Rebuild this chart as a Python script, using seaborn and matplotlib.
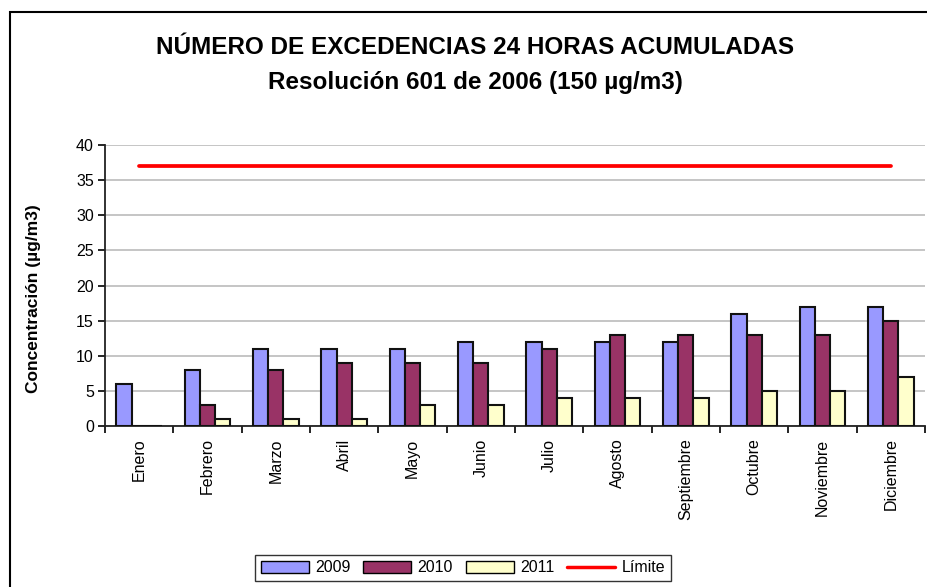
import numpy as np
import pandas as pd
import matplotlib
matplotlib.use('Agg')
import matplotlib.pyplot as plt
import seaborn as sns
from matplotlib.patches import Rectangle, Patch
from matplotlib.lines import Line2D

meses = ['Enero', 'Febrero', 'Marzo', 'Abril', 'Mayo', 'Junio', 'Julio',
         'Agosto', 'Septiembre', 'Octubre', 'Noviembre', 'Diciembre']
v2009 = [6, 8, 11, 11, 11, 12, 12, 12, 12, 16, 17, 17]
v2010 = [0, 3, 8, 9, 9, 9, 11, 13, 13, 13, 13, 15]
v2011 = [0, 1, 1, 1, 3, 3, 4, 4, 4, 5, 5, 7]
limite = [37] * 12
anios = ['2009', '2010', '2011']
colores = ['#9999FF', '#993366', '#FFFFCC']

df = pd.DataFrame({'mes': meses * 3,
                   'anio': np.repeat(anios, 12),
                   'valor': v2009 + v2010 + v2011})

sns.set_style('white')
plt.rcParams['font.family'] = ['Liberation Sans', 'DejaVu Sans']
plt.rcParams['text.color'] = 'black'
plt.rcParams['axes.labelcolor'] = 'black'
plt.rcParams['xtick.color'] = 'black'
plt.rcParams['ytick.color'] = 'black'

fig = plt.figure(figsize=(9.27, 5.87), dpi=100)
ax = fig.add_axes([105 / 927, 1 - 426 / 587, 820 / 927, 281 / 587])

# outer chart frame (cropped on the right and bottom)
fig.patches.append(Rectangle((10 / 927, -0.05), 1.0, 1 - 12 / 587 + 0.05,
                             transform=fig.transFigure, fill=False,
                             edgecolor='black', linewidth=1.5, zorder=0))

sns.barplot(data=df, x='mes', y='valor', hue='anio', order=meses,
            hue_order=anios, palette=colores, width=0.67, gap=0,
            edgecolor='#111111', linewidth=1.5, saturation=1, ax=ax,
            legend=False, zorder=3)
ax.plot(np.arange(len(meses)), limite, color='red', linewidth=2.7, zorder=4)

ax.set_xlim(-0.5, 11.5)
ax.set_ylim(0, 40)
ax.set_yticks(range(0, 41, 5))
ax.yaxis.grid(True, color='#c0c0c0', linewidth=1.3, zorder=0)
ax.set_axisbelow(True)
for s in ['top', 'right']:
    ax.spines[s].set_visible(False)
for s in ['left', 'bottom']:
    ax.spines[s].set_color('#222222')
    ax.spines[s].set_linewidth(1.3)

ax.tick_params(axis='y', which='major', direction='out', length=5,
               left=True, labelsize=11.5, pad=3, width=1.2)
ax.set_xticks(np.arange(len(meses)))
ax.set_xticklabels(meses, rotation=90, fontsize=11.5)
ax.tick_params(axis='x', which='major', length=0, pad=9)
ax.set_xticks(np.arange(-0.5, 12, 1), minor=True)
ax.tick_params(axis='x', which='minor', direction='out', length=5,
               bottom=True, width=1.2)
ax.set_xlabel('')
ax.set_ylabel('Concentración (µg/m3)', fontsize=12.5, fontweight='bold')
ax.yaxis.set_label_coords(-0.078, 0.455)

fig.text(475 / 927, 1 - 47 / 587, 'NÚMERO DE EXCEDENCIAS 24 HORAS ACUMULADAS',
         ha='center', va='center', fontsize=17.5, fontweight='bold')
fig.text(475 / 927, 1 - 82 / 587, 'Resolución 601 de 2006 (150 µg/m3)',
         ha='center', va='center', fontsize=17.5, fontweight='bold')

handles = [Patch(facecolor=c, edgecolor='black', linewidth=1) for c in colores]
handles.append(Line2D([0], [0], color='red', linewidth=2.5))
leg = fig.legend(handles, anios + ['Límite'], loc='center',
                 bbox_to_anchor=(463 / 927, 1 - 568 / 587), ncol=4,
                 fontsize=11.5, frameon=True, fancybox=False,
                 handlelength=3, handleheight=0.8, columnspacing=0.8,
                 handletextpad=0.4, borderpad=0.35)
leg.get_frame().set_edgecolor('black')
leg.get_frame().set_linewidth(1)

fig.savefig('out.png', dpi=100)
